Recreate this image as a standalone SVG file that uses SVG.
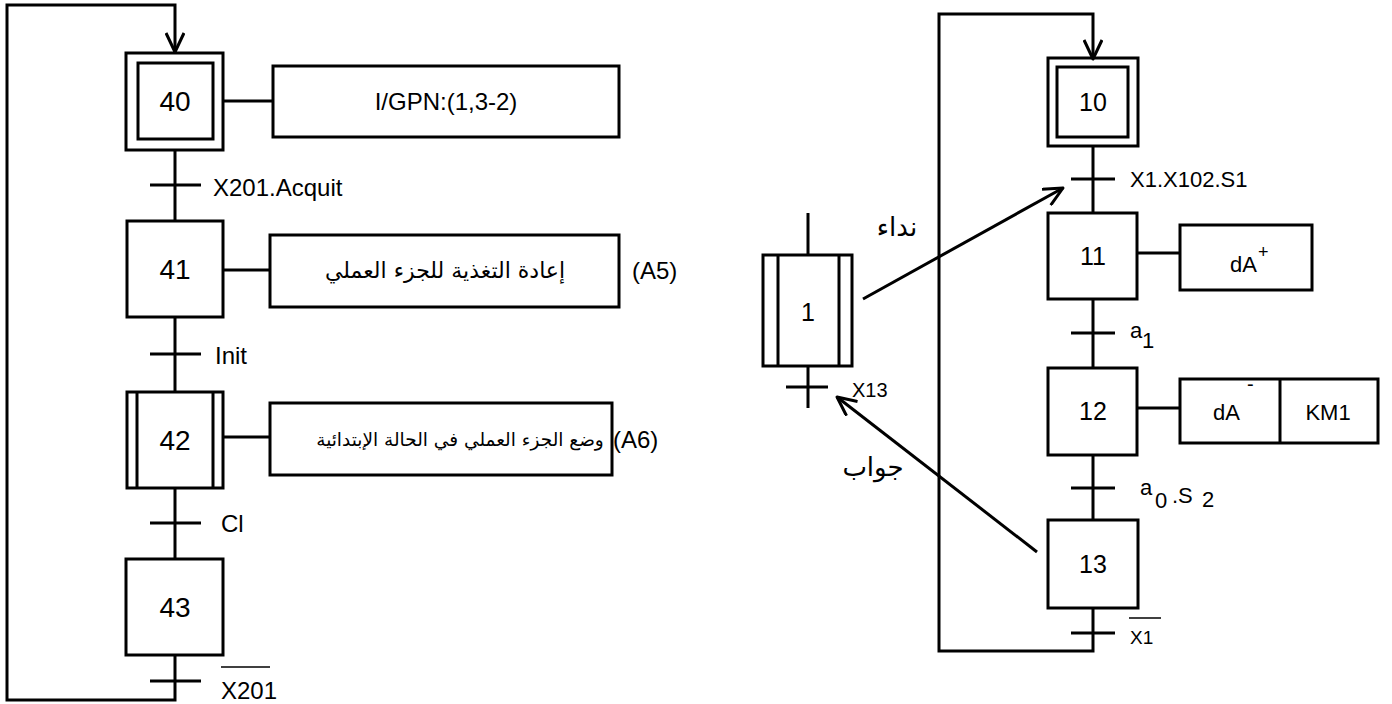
<svg xmlns="http://www.w3.org/2000/svg" width="1392" height="704" viewBox="0 0 1392 704">
<style>
.b{fill:none;stroke:#000;stroke-width:3}
.l{fill:none;stroke:#000;stroke-width:3}
.t{font-family:"Liberation Sans","DejaVu Sans",Arial,sans-serif;fill:#000}
.n{font-size:28px;text-anchor:middle}
.nr{font-size:25px;text-anchor:middle}
.lb{font-size:24px}
.ar{font-family:"DejaVu Sans","Liberation Sans",sans-serif;fill:#000;text-anchor:middle}
</style>
<defs>
<marker id="arr" viewBox="0 0 22 20" refX="20" refY="10" markerWidth="22" markerHeight="20" markerUnits="userSpaceOnUse" orient="auto">
<path d="M1,1 L20,10 L1,19" fill="none" stroke="#000" stroke-width="3" stroke-linejoin="round"/>
</marker>
</defs>
<rect width="1392" height="704" fill="#fff"/>

<g id="connectors">
<path class="l" d="M175,655 V700 H7 V5 H175 V52" marker-end="url(#arr)"/>
<path class="l" d="M175,150 V221 M175,317 V392 M175,488 V559"/>
<path class="l" d="M150,185 H201 M150,354 H201 M150,523 H201 M150,681 H201"/>
<path class="l" d="M223,101 H273 M223,270 H270 M223,437 H270"/>
<path class="l" d="M1093,608 V651 H939 V14 H1093 V59" marker-end="url(#arr)"/>
<path class="l" d="M1093,146 V213 M1093,299 V368 M1093,455 V520"/>
<path class="l" d="M1071,179 H1115 M1071,333 H1115 M1071,488 H1115 M1071,633 H1115"/>
<path class="l" d="M1137,253 H1180 M1137,408 H1180"/>
<path class="l" d="M808,213 V255 M808,366 V408 M786,387 H828"/>
<line class="l" x1="863" y1="299" x2="1063" y2="188" marker-end="url(#arr)"/>
<line class="l" x1="1037" y1="552" x2="837" y2="397" marker-end="url(#arr)"/>
<text class="t lb" x="213" y="196">X201.Acquit</text>
<text class="t lb" x="215" y="364">Init</text>
<text class="t lb" x="221" y="532">Cl</text>
<text class="t lb" x="221" y="699">X201</text>
<line x1="221" y1="667" x2="270" y2="667" stroke="#000" stroke-width="1.5"/>
<text class="t" x="1130" y="187" font-size="22">X1.X102.S1</text>
<text class="t" x="1130" y="338" font-size="22">a</text>
<text class="t" x="1142" y="348" font-size="22">1</text>
<text class="t" x="1140" y="495" font-size="22">a</text>
<text class="t" x="1155" y="508" font-size="22">0</text>
<text class="t" x="1172" y="503" font-size="22">.S</text>
<text class="t" x="1202" y="507" font-size="22">2</text>
<text class="t" x="1130" y="644" font-size="19">X1</text>
<line x1="1129" y1="618" x2="1161" y2="618" stroke="#000" stroke-width="1.5"/>
<text class="t" x="852" y="397" font-size="20">X13</text>
<text class="ar" x="897" y="236" font-size="26">نداء</text>
<text class="ar" x="873" y="476" font-size="26">جواب</text>
</g>

<g id="step40">
<rect class="b" x="126" y="53" width="97" height="97"/>
<rect class="b" x="138" y="63" width="75" height="76"/>
<text class="t n" x="175" y="111">40</text>
</g>
<g id="action40">
<rect class="b" x="273" y="66" width="346" height="71"/>
<text class="t lb" x="446" y="110" text-anchor="middle">I/GPN:(1,3-2)</text>
</g>
<g id="step41">
<rect class="b" x="127" y="221" width="96" height="96"/>
<text class="t n" x="175" y="279">41</text>
</g>
<g id="action41">
<rect class="b" x="270" y="235" width="349" height="72"/>
<text class="ar" x="445" y="278" font-size="22">إعادة التغذية للجزء العملي</text>
<text class="t lb" x="632" y="279">(A5)</text>
</g>
<g id="step42">
<rect class="b" x="127" y="392" width="96" height="96"/>
<path class="l" d="M137,392 V488 M213,392 V488"/>
<text class="t n" x="175" y="450">42</text>
</g>
<g id="action42">
<rect class="b" x="270" y="403" width="342" height="72"/>
<text class="ar" x="460" y="446" font-size="18.5">وضع الجزء العملي في  الحالة الإبتدائية</text>
<text class="t lb" x="613" y="448">(A6)</text>
</g>
<g id="step43">
<rect class="b" x="126" y="559" width="97" height="96"/>
<text class="t n" x="175" y="617">43</text>
</g>

<g id="step10">
<rect class="b" x="1048" y="58" width="90" height="88"/>
<rect class="b" x="1057" y="67" width="71" height="70"/>
<text class="t nr" x="1093" y="111">10</text>
</g>
<g id="step11">
<rect class="b" x="1048" y="213" width="89" height="86"/>
<text class="t nr" x="1093" y="265">11</text>
</g>
<g id="action11">
<rect class="b" x="1180" y="225" width="132" height="65"/>
<text class="t" x="1230" y="272" font-size="22">dA</text>
<text class="t" x="1258" y="258" font-size="18">+</text>
</g>
<g id="step12">
<rect class="b" x="1048" y="368" width="89" height="87"/>
<text class="t nr" x="1093" y="420">12</text>
</g>
<g id="action12">
<rect class="b" x="1180" y="379" width="198" height="64"/>
<line class="l" x1="1280" y1="379" x2="1280" y2="443"/>
<text class="t" x="1213" y="420" font-size="22">dA</text>
<text class="t" x="1247" y="391" font-size="20">-</text>
<text class="t" x="1328" y="420" font-size="22" text-anchor="middle">KM1</text>
</g>
<g id="step13">
<rect class="b" x="1048" y="520" width="90" height="88"/>
<text class="t nr" x="1093" y="573">13</text>
</g>
<g id="macro1">
<rect class="b" x="763" y="255" width="89" height="111"/>
<path class="l" d="M778,255 V366 M839,255 V366"/>
<text class="t nr" x="808" y="321">1</text>
</g>
</svg>
